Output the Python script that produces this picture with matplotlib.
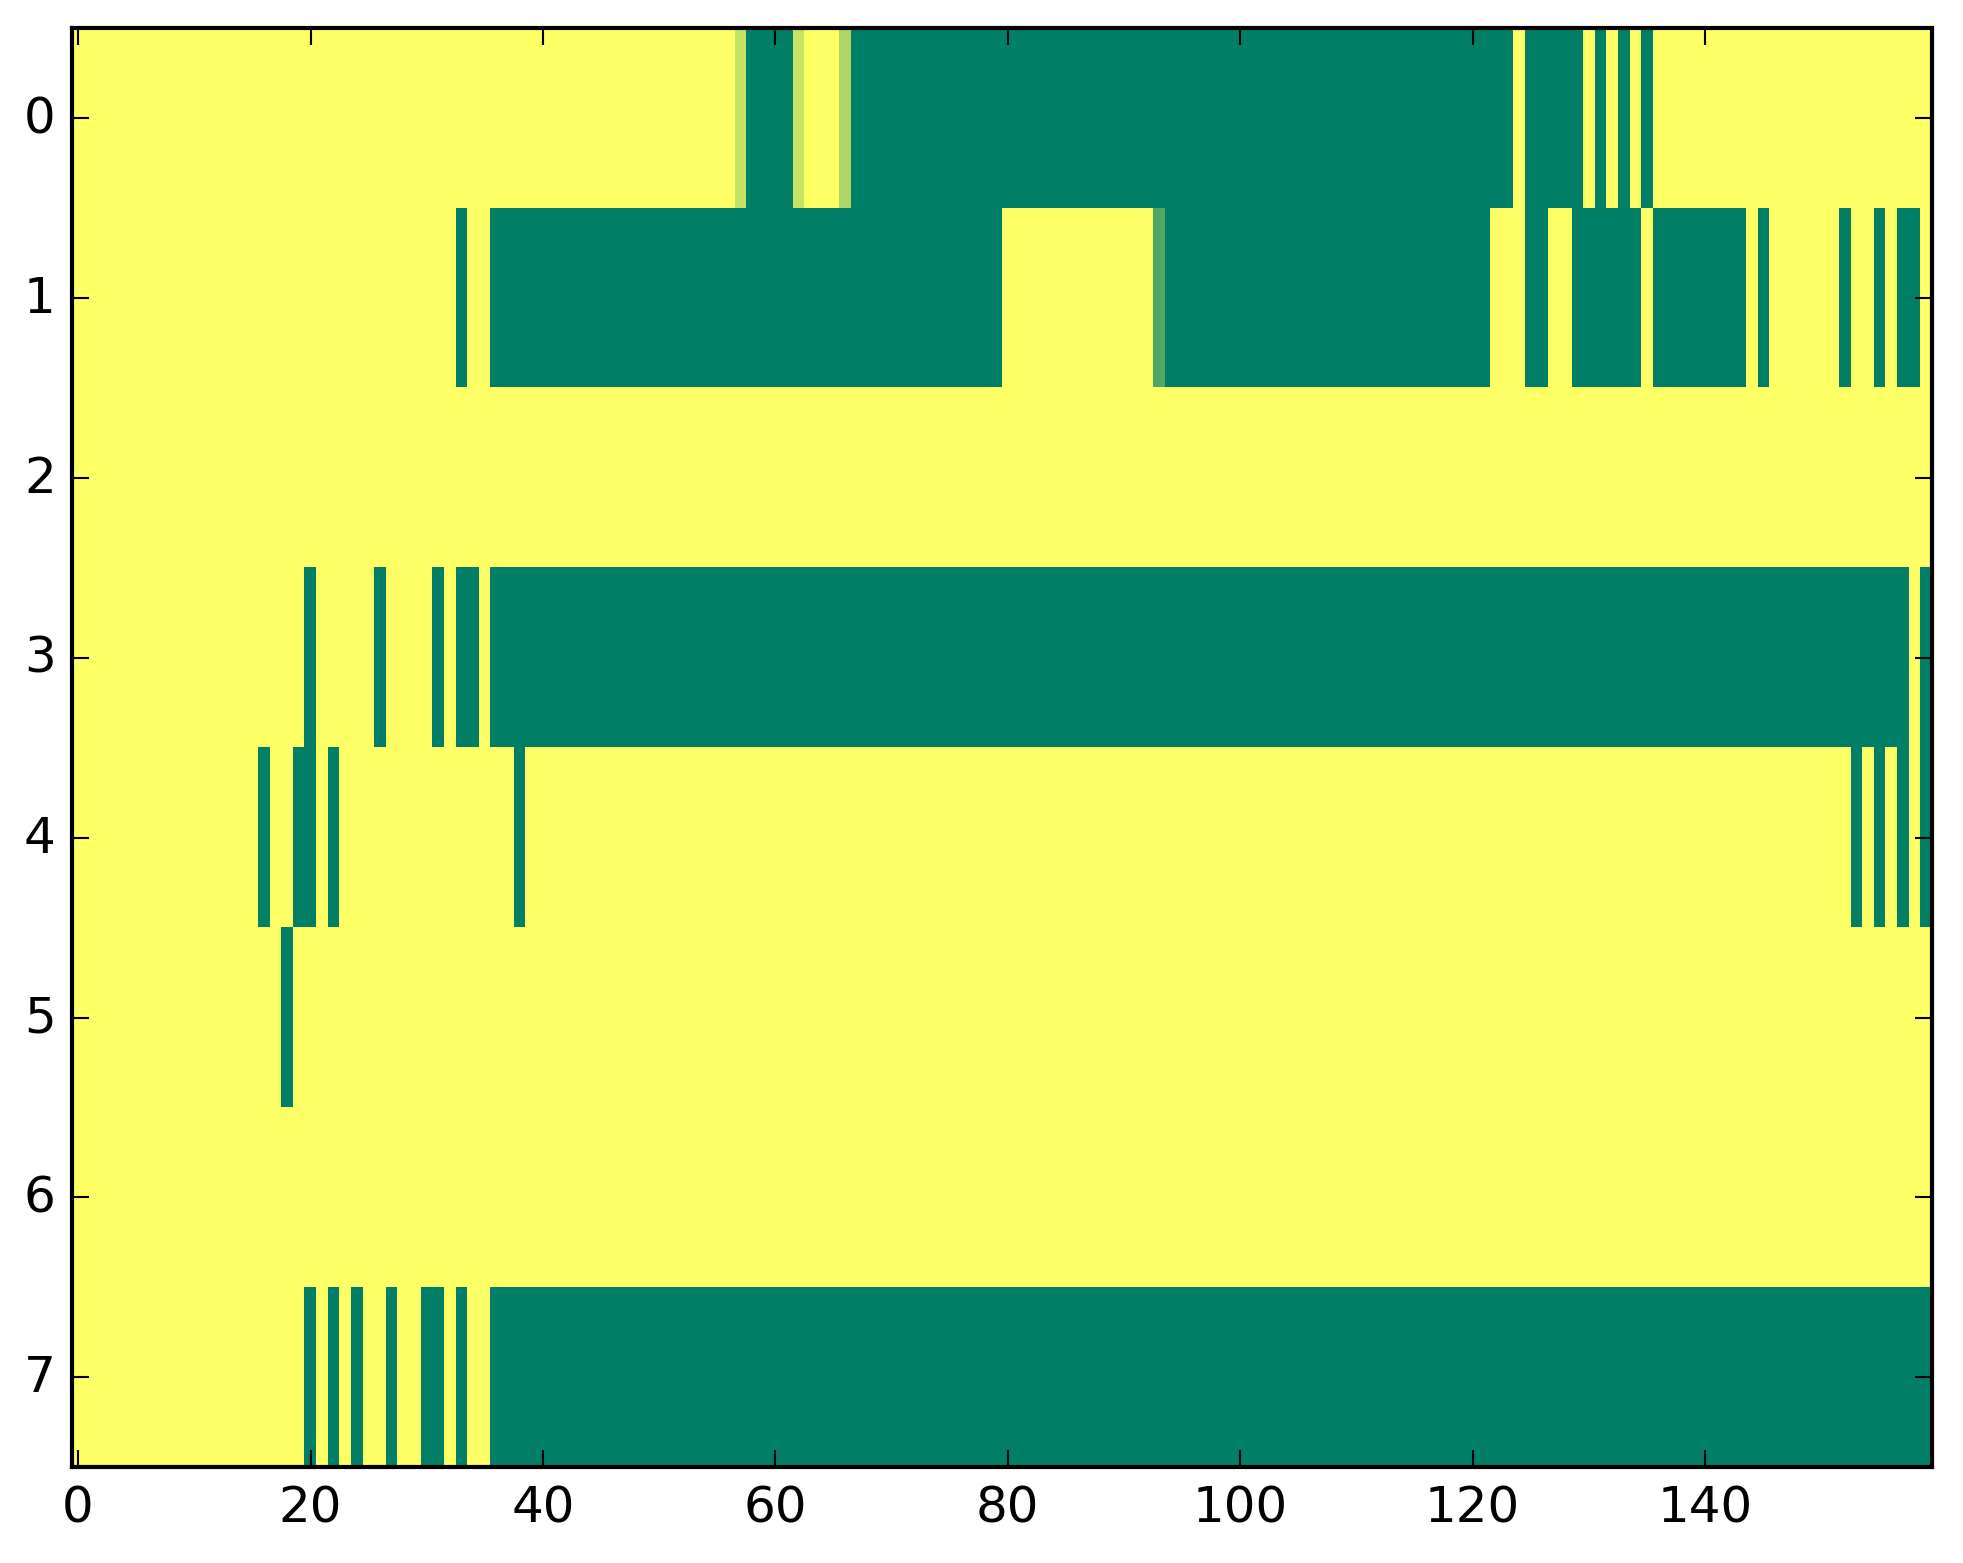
import numpy as np
import matplotlib
matplotlib.use("Agg")
import matplotlib.pyplot as plt

n_rows = 8
n_cols = 160

# green (value 0) runs per row, inclusive (start, stop)
row0_green = [(58, 61), (67, 123), (125, 129), (131, 131), (133, 133), (135, 135)]
row1_green = [(33, 33), (36, 79), (94, 121), (125, 126), (129, 134), (136, 143),
              (145, 145), (152, 152), (155, 155), (157, 158)]
row2_green = []
row3_green = [(20, 20), (26, 26), (31, 31), (33, 34), (36, 157), (159, 159)]
row4_green = [(16, 16), (19, 20), (22, 22), (38, 38), (153, 153), (155, 155),
              (157, 157), (159, 159)]
row5_green = [(18, 18)]
row6_green = []
row7_green = [(20, 20), (22, 22), (24, 24), (27, 27), (30, 31), (33, 33), (36, 159)]

# in-between cells: (row, col, value)
partial_cells = [(0, 57, 0.78), (0, 62, 0.78), (0, 66, 0.68), (1, 93, 0.31)]

green_runs = [row0_green, row1_green, row2_green, row3_green,
              row4_green, row5_green, row6_green, row7_green]

data = np.ones((n_rows, n_cols))
for r, runs in enumerate(green_runs):
    for start, stop in runs:
        data[r, start:stop + 1] = 0.0
for r, c, v in partial_cells:
    data[r, c] = v

plt.style.use("classic")
fig = plt.figure(figsize=(1963 / 300, 1564 / 300), dpi=300)
ax = fig.add_axes([72.3 / 1963, (1564 - 1468.3) / 1564, 1859.4 / 1963, 1439 / 1564])
ax.imshow(data, cmap="summer", vmin=0, vmax=1, interpolation="nearest", aspect="auto")
ax.set_xticks(np.arange(0, 141, 20))
ax.set_yticks(np.arange(0, 8))

fig.savefig("out.png", dpi=300, facecolor="white")
